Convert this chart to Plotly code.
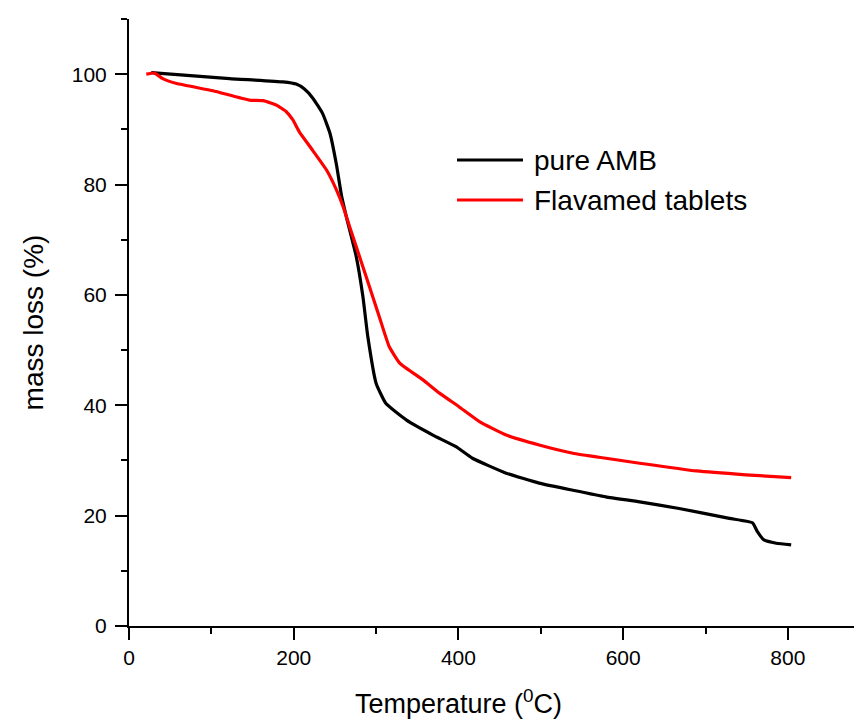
import plotly.graph_objects as go

# ---- data ----
amb_temp = [27, 122, 187, 203, 213, 223, 235, 244, 252, 258, 264, 276, 284, 290, 300,
            312, 337, 369, 397, 417, 458, 498, 539, 579, 620, 668, 729, 757, 763, 771,
            786, 804]
amb_mass = [100.3, 99.2, 98.6, 98.2, 97.3, 95.7, 92.9, 89.3, 83.5, 78.0, 74.1, 66.9,
            59.7, 52.4, 44.0, 40.3, 37.3, 34.6, 32.5, 30.4, 27.7, 25.9, 24.6, 23.4,
            22.5, 21.3, 19.5, 18.7, 17.1, 15.6, 15.0, 14.7]

flav_temp = [21, 31, 41, 58, 102, 146, 163, 179, 191, 199, 207, 223, 240, 252, 260,
             268, 288, 304, 316, 329, 357, 377, 401, 426, 458, 498, 539, 579, 620,
             689, 749, 804]
flav_mass = [100.0, 100.2, 99.2, 98.3, 97.0, 95.3, 95.2, 94.4, 93.2, 91.7, 89.5, 86.2,
             82.6, 79.0, 76.0, 72.3, 63.3, 56.0, 50.6, 47.6, 44.6, 42.2, 39.7, 37.0,
             34.6, 32.8, 31.3, 30.4, 29.5, 28.1, 27.4, 26.9]

series_names = ["pure AMB", "Flavamed tablets"]
series_colors = ["#000000", "#ff0000"]
x_ticks = [0, 200, 400, 600, 800]
y_ticks = [0, 20, 40, 60, 80, 100]

FONT = "Liberation Sans, Arial, sans-serif"

fig = go.Figure()
for xs, ys, name, color in zip([amb_temp, flav_temp], [amb_mass, flav_mass],
                               series_names, series_colors):
    fig.add_trace(go.Scatter(x=xs, y=ys, mode="lines", name=name,
                             line=dict(color=color, width=3.2, shape="spline", smoothing=0.4),
                             showlegend=False))

axis_common = dict(showgrid=False, zeroline=False, showline=True, linecolor="black",
                   linewidth=2, ticks="outside", ticklen=12, tickwidth=2,
                   tickcolor="black", tickfont=dict(family=FONT, size=21, color="black"))

fig.update_xaxes(range=[0, 890], tickvals=x_ticks,
                 minor=dict(dtick=100, ticks="outside", ticklen=6, tickwidth=2,
                            tickcolor="black"),
                 **axis_common)
fig.update_yaxes(range=[0, 110], tickvals=y_ticks, ticklabelstandoff=4,
                 minor=dict(dtick=10, ticks="outside", ticklen=6, tickwidth=2,
                            tickcolor="black"),
                 title=dict(text="mass loss (%)", font=dict(family=FONT, size=28, color="black"),
                            standoff=20),
                 **axis_common)

# legend drawn as line samples plus text
legend_y = [0.7677, 0.7018]
for name, color, ly in zip(series_names, series_colors, legend_y):
    fig.add_shape(type="line", xref="paper", yref="paper", x0=0.4475, x1=0.5375,
                  y0=ly, y1=ly, line=dict(color=color, width=3.2))
    fig.add_annotation(xref="paper", yref="paper", x=0.5498, y=ly, text=name,
                       showarrow=False, xanchor="left", yanchor="middle",
                       font=dict(family=FONT, size=28, color="black"))

fig.add_annotation(xref="x", yref="paper", x=400, y=-0.126, text="Temperature (<sup>0</sup>C)",
                   showarrow=False, xanchor="center", yanchor="middle",
                   font=dict(family=FONT, size=27, color="black"))

# page body has an 8px margin, so the figure is sized/offset to land on the reference
fig.update_layout(width=854, height=712, margin=dict(l=121, r=0, t=11, b=94),
                  paper_bgcolor="white", plot_bgcolor="white",
                  font=dict(family=FONT, color="black"))

fig.write_html("out.html")
